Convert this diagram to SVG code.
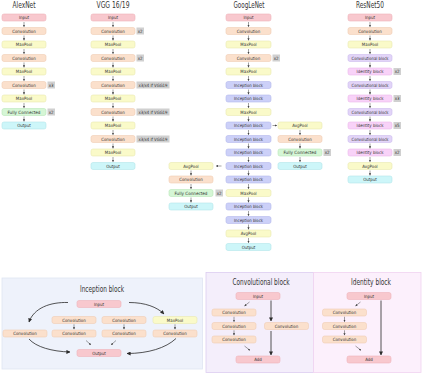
<svg xmlns="http://www.w3.org/2000/svg" width="423" height="375" viewBox="0 0 423 375">
<style>
.b{stroke-width:0.6}
.in{fill:#f8c8ce;stroke:#efb3bb}
.cv{fill:#fbe0cc;stroke:#f0ccb3}
.mp{fill:#fafac9;stroke:#e9e9b0}
.fc{fill:#d5f6d5;stroke:#b9e7b9}
.out{fill:#cdf6f9;stroke:#b1e5e9}
.inc{fill:#ccd0f8;stroke:#b4b8ec}
.cb{fill:#e2d4f8;stroke:#cdbcee}
.ib{fill:#f8d2f8;stroke:#ebb8eb}
.bd{fill:#d0d0d0}
.t{font-family:"Liberation Sans Narrow","DejaVu Sans Condensed",sans-serif;font-size:4.4px;fill:#333;text-anchor:middle;dominant-baseline:central}
.tt{font-family:"Liberation Sans Narrow","DejaVu Sans Condensed",sans-serif;font-size:8.5px;fill:#333;text-anchor:middle}
.ar{fill:none;stroke:#444;stroke-width:0.5;marker-end:url(#s)}
.ab{fill:none;stroke:#2a2a2a;stroke-width:0.8;marker-end:url(#l)}
.pn{stroke-width:0.8}
</style>
<defs>
<marker id="s" markerUnits="userSpaceOnUse" markerWidth="2.2" markerHeight="2.2" viewBox="0 0 10 10" refX="9" refY="5" orient="auto"><path d="M0,0L10,5L0,10z" fill="#444"/></marker>
<marker id="l" markerUnits="userSpaceOnUse" markerWidth="4" markerHeight="4" viewBox="0 0 10 10" refX="9" refY="5" orient="auto"><path d="M0,0L10,5L0,10z" fill="#2a2a2a"/></marker>
</defs>
<rect width="423" height="375" fill="#fff"/>

<!-- Titles -->
<g id="titles">
<text class="tt" x="24" y="8.3" textLength="23" lengthAdjust="spacingAndGlyphs">AlexNet</text>
<text class="tt" x="113" y="8.3" textLength="33" lengthAdjust="spacingAndGlyphs">VGG 16/19</text>
<text class="tt" x="249" y="8.3" textLength="31" lengthAdjust="spacingAndGlyphs">GoogLeNet</text>
<text class="tt" x="370" y="8.3" textLength="28" lengthAdjust="spacingAndGlyphs">ResNet50</text>
</g>

<!-- AlexNet -->
<g id="alex-0"><rect class="b in" x="2" y="14" width="44" height="7" rx="2"/><text class="t" x="24" y="17.6">Input</text></g>
<g id="alex-1"><rect class="b cv" x="2" y="27.5" width="44" height="7" rx="2"/><text class="t" x="24" y="31.1">Convolution</text></g>
<g id="alex-2"><rect class="b mp" x="2" y="41" width="44" height="7" rx="2"/><text class="t" x="24" y="44.6">MaxPool</text></g>
<g id="alex-3"><rect class="b cv" x="2" y="54.5" width="44" height="7" rx="2"/><text class="t" x="24" y="58.1">Convolution</text></g>
<g id="alex-4"><rect class="b mp" x="2" y="68" width="44" height="7" rx="2"/><text class="t" x="24" y="71.6">MaxPool</text></g>
<g id="alex-5"><rect class="b cv" x="2" y="81.5" width="44" height="7" rx="2"/><text class="t" x="24" y="85.1">Convolution</text><rect class="bd" x="47.5" y="81.5" width="7.5" height="7"/><text class="t" x="51.2" y="85.1">x3</text></g>
<g id="alex-6"><rect class="b mp" x="2" y="95" width="44" height="7" rx="2"/><text class="t" x="24" y="98.6">MaxPool</text></g>
<g id="alex-7"><rect class="b fc" x="2" y="108.5" width="44" height="7" rx="2"/><text class="t" x="24" y="112.1" textLength="33" lengthAdjust="spacingAndGlyphs">Fully Connected</text><rect class="bd" x="47.5" y="108.5" width="7.5" height="7"/><text class="t" x="51.2" y="112.1">x2</text></g>
<g id="alex-8"><rect class="b out" x="2" y="122" width="44" height="7" rx="2"/><text class="t" x="24" y="125.6">Output</text></g>

<!-- VGG -->
<g id="vgg-0"><rect class="b in" x="91" y="14" width="44" height="7" rx="2"/><text class="t" x="113" y="17.6">Input</text></g>
<g id="vgg-1"><rect class="b cv" x="91" y="27.5" width="44" height="7" rx="2"/><text class="t" x="113" y="31.1">Convolution</text><rect class="bd" x="136.5" y="27.5" width="7.5" height="7"/><text class="t" x="140.2" y="31.1">x2</text></g>
<g id="vgg-2"><rect class="b mp" x="91" y="41" width="44" height="7" rx="2"/><text class="t" x="113" y="44.6">MaxPool</text></g>
<g id="vgg-3"><rect class="b cv" x="91" y="54.5" width="44" height="7" rx="2"/><text class="t" x="113" y="58.1">Convolution</text><rect class="bd" x="136.5" y="54.5" width="7.5" height="7"/><text class="t" x="140.2" y="58.1">x2</text></g>
<g id="vgg-4"><rect class="b mp" x="91" y="68" width="44" height="7" rx="2"/><text class="t" x="113" y="71.6">MaxPool</text></g>
<g id="vgg-5"><rect class="b cv" x="91" y="81.5" width="44" height="7" rx="2"/><text class="t" x="113" y="85.1">Convolution</text><rect class="bd" x="136.5" y="81.5" width="33" height="7"/><text class="t" x="153" y="85.1" textLength="29" lengthAdjust="spacingAndGlyphs">x3/x4 if VGG19</text></g>
<g id="vgg-6"><rect class="b mp" x="91" y="95" width="44" height="7" rx="2"/><text class="t" x="113" y="98.6">MaxPool</text></g>
<g id="vgg-7"><rect class="b cv" x="91" y="108.5" width="44" height="7" rx="2"/><text class="t" x="113" y="112.1">Convolution</text><rect class="bd" x="136.5" y="108.5" width="33" height="7"/><text class="t" x="153" y="112.1" textLength="29" lengthAdjust="spacingAndGlyphs">x3/x4 if VGG19</text></g>
<g id="vgg-8"><rect class="b mp" x="91" y="122" width="44" height="7" rx="2"/><text class="t" x="113" y="125.6">MaxPool</text></g>
<g id="vgg-9"><rect class="b cv" x="91" y="135.5" width="44" height="7" rx="2"/><text class="t" x="113" y="139.1">Convolution</text><rect class="bd" x="136.5" y="135.5" width="33" height="7"/><text class="t" x="153" y="139.1" textLength="29" lengthAdjust="spacingAndGlyphs">x3/x4 if VGG19</text></g>
<g id="vgg-10"><rect class="b mp" x="91" y="149" width="44" height="7" rx="2"/><text class="t" x="113" y="152.6">MaxPool</text></g>
<g id="vgg-11"><rect class="b out" x="91" y="162.5" width="44" height="7" rx="2"/><text class="t" x="113" y="166.1">Output</text></g>

<!-- GoogLeNet main -->
<g id="g-0"><rect class="b in" x="226" y="14" width="45" height="7" rx="2"/><text class="t" x="248.5" y="17.6">Input</text></g>
<g id="g-1"><rect class="b cv" x="226" y="27.5" width="45" height="7" rx="2"/><text class="t" x="248.5" y="31.1">Convolution</text></g>
<g id="g-2"><rect class="b mp" x="226" y="41" width="45" height="7" rx="2"/><text class="t" x="248.5" y="44.6">MaxPool</text></g>
<g id="g-3"><rect class="b cv" x="226" y="54.5" width="45" height="7" rx="2"/><text class="t" x="248.5" y="58.1">Convolution</text><rect class="bd" x="272.5" y="54.5" width="7.5" height="7"/><text class="t" x="276.2" y="58.1">x2</text></g>
<g id="g-4"><rect class="b mp" x="226" y="68" width="45" height="7" rx="2"/><text class="t" x="248.5" y="71.6">MaxPool</text></g>
<g id="g-5"><rect class="b inc" x="226" y="81.5" width="45" height="7" rx="2"/><text class="t" x="248.5" y="85.1" textLength="29" lengthAdjust="spacingAndGlyphs">Inception block</text></g>
<g id="g-6"><rect class="b inc" x="226" y="95" width="45" height="7" rx="2"/><text class="t" x="248.5" y="98.6" textLength="29" lengthAdjust="spacingAndGlyphs">Inception block</text></g>
<g id="g-7"><rect class="b mp" x="226" y="108.5" width="45" height="7" rx="2"/><text class="t" x="248.5" y="112.1">MaxPool</text></g>
<g id="g-8"><rect class="b inc" x="226" y="122" width="45" height="7" rx="2"/><text class="t" x="248.5" y="125.6" textLength="29" lengthAdjust="spacingAndGlyphs">Inception block</text></g>
<g id="g-9"><rect class="b inc" x="226" y="135.5" width="45" height="7" rx="2"/><text class="t" x="248.5" y="139.1" textLength="29" lengthAdjust="spacingAndGlyphs">Inception block</text></g>
<g id="g-10"><rect class="b inc" x="226" y="149" width="45" height="7" rx="2"/><text class="t" x="248.5" y="152.6" textLength="29" lengthAdjust="spacingAndGlyphs">Inception block</text></g>
<g id="g-11"><rect class="b inc" x="226" y="162.5" width="45" height="7" rx="2"/><text class="t" x="248.5" y="166.1" textLength="29" lengthAdjust="spacingAndGlyphs">Inception block</text></g>
<g id="g-12"><rect class="b inc" x="226" y="176" width="45" height="7" rx="2"/><text class="t" x="248.5" y="179.6" textLength="29" lengthAdjust="spacingAndGlyphs">Inception block</text></g>
<g id="g-13"><rect class="b mp" x="226" y="189.5" width="45" height="7" rx="2"/><text class="t" x="248.5" y="193.1">MaxPool</text></g>
<g id="g-14"><rect class="b inc" x="226" y="203" width="45" height="7" rx="2"/><text class="t" x="248.5" y="206.6" textLength="29" lengthAdjust="spacingAndGlyphs">Inception block</text></g>
<g id="g-15"><rect class="b inc" x="226" y="216.5" width="45" height="7" rx="2"/><text class="t" x="248.5" y="220.1" textLength="29" lengthAdjust="spacingAndGlyphs">Inception block</text></g>
<g id="g-16"><rect class="b mp" x="226" y="230" width="45" height="7" rx="2"/><text class="t" x="248.5" y="233.6">AvgPool</text></g>
<g id="g-17"><rect class="b out" x="226" y="243.5" width="45" height="7" rx="2"/><text class="t" x="248.5" y="247.1">Output</text></g>

<!-- GoogLeNet right auxiliary -->
<g id="gr-0"><rect class="b mp" x="278" y="122" width="44" height="7" rx="2"/><text class="t" x="300" y="125.6">AvgPool</text></g>
<g id="gr-1"><rect class="b cv" x="278" y="135.5" width="44" height="7" rx="2"/><text class="t" x="300" y="139.1">Convolution</text></g>
<g id="gr-2"><rect class="b fc" x="278" y="149" width="44" height="7" rx="2"/><text class="t" x="300" y="152.6" textLength="33" lengthAdjust="spacingAndGlyphs">Fully Connected</text><rect class="bd" x="323.5" y="149" width="7.5" height="7"/><text class="t" x="327.2" y="152.6">x2</text></g>
<g id="gr-3"><rect class="b out" x="278" y="162.5" width="44" height="7" rx="2"/><text class="t" x="300" y="166.1">Output</text></g>

<!-- GoogLeNet left auxiliary -->
<g id="gl-0"><rect class="b mp" x="169" y="162.5" width="44" height="7" rx="2"/><text class="t" x="191" y="166.1">AvgPool</text></g>
<g id="gl-1"><rect class="b cv" x="169" y="176" width="44" height="7" rx="2"/><text class="t" x="191" y="179.6">Convolution</text></g>
<g id="gl-2"><rect class="b fc" x="169" y="189.5" width="44" height="7" rx="2"/><text class="t" x="191" y="193.1" textLength="33" lengthAdjust="spacingAndGlyphs">Fully Connected</text><rect class="bd" x="215.5" y="189.5" width="7.5" height="7"/><text class="t" x="219.2" y="193.1">x2</text></g>
<g id="gl-3"><rect class="b out" x="169" y="203" width="44" height="7" rx="2"/><text class="t" x="191" y="206.6">Output</text></g>

<!-- ResNet50 -->
<g id="r-0"><rect class="b in" x="348" y="14" width="44" height="7" rx="2"/><text class="t" x="370" y="17.6">Input</text></g>
<g id="r-1"><rect class="b cv" x="348" y="27.5" width="44" height="7" rx="2"/><text class="t" x="370" y="31.1">Convolution</text></g>
<g id="r-2"><rect class="b mp" x="348" y="41" width="44" height="7" rx="2"/><text class="t" x="370" y="44.6">MaxPool</text></g>
<g id="r-3"><rect class="b cb" x="348" y="54.5" width="44" height="7" rx="2"/><text class="t" x="370" y="58.1" textLength="37" lengthAdjust="spacingAndGlyphs">Convolutional block</text></g>
<g id="r-4"><rect class="b ib" x="348" y="68" width="44" height="7" rx="2"/><text class="t" x="370" y="71.6" textLength="27" lengthAdjust="spacingAndGlyphs">Identity block</text><rect class="bd" x="393.5" y="68" width="7.5" height="7"/><text class="t" x="397.2" y="71.6">x2</text></g>
<g id="r-5"><rect class="b cb" x="348" y="81.5" width="44" height="7" rx="2"/><text class="t" x="370" y="85.1" textLength="37" lengthAdjust="spacingAndGlyphs">Convolutional block</text></g>
<g id="r-6"><rect class="b ib" x="348" y="95" width="44" height="7" rx="2"/><text class="t" x="370" y="98.6" textLength="27" lengthAdjust="spacingAndGlyphs">Identity block</text><rect class="bd" x="393.5" y="95" width="7.5" height="7"/><text class="t" x="397.2" y="98.6">x3</text></g>
<g id="r-7"><rect class="b cb" x="348" y="108.5" width="44" height="7" rx="2"/><text class="t" x="370" y="112.1" textLength="37" lengthAdjust="spacingAndGlyphs">Convolutional block</text></g>
<g id="r-8"><rect class="b ib" x="348" y="122" width="44" height="7" rx="2"/><text class="t" x="370" y="125.6" textLength="27" lengthAdjust="spacingAndGlyphs">Identity block</text><rect class="bd" x="393.5" y="122" width="7.5" height="7"/><text class="t" x="397.2" y="125.6">x5</text></g>
<g id="r-9"><rect class="b cb" x="348" y="135.5" width="44" height="7" rx="2"/><text class="t" x="370" y="139.1" textLength="37" lengthAdjust="spacingAndGlyphs">Convolutional block</text></g>
<g id="r-10"><rect class="b ib" x="348" y="149" width="44" height="7" rx="2"/><text class="t" x="370" y="152.6" textLength="27" lengthAdjust="spacingAndGlyphs">Identity block</text><rect class="bd" x="393.5" y="149" width="7.5" height="7"/><text class="t" x="397.2" y="152.6">x2</text></g>
<g id="r-11"><rect class="b mp" x="348" y="162.5" width="44" height="7" rx="2"/><text class="t" x="370" y="166.1">AvgPool</text></g>
<g id="r-12"><rect class="b out" x="348" y="176" width="44" height="7" rx="2"/><text class="t" x="370" y="179.6">Output</text></g>

<!-- Panels -->
<g id="panel-inception">
<rect class="pn" x="2" y="278" width="200.5" height="91" fill="#eef2fb" stroke="#dfe5f2"/>
<text class="tt" x="102" y="291.5" textLength="44" lengthAdjust="spacingAndGlyphs">Inception block</text>
</g>
<g id="panel-conv">
<rect class="pn" x="206" y="272.5" width="107.5" height="100" fill="#f4eefb" stroke="#dccdf0"/>
<text class="tt" x="261" y="284.5" textLength="57" lengthAdjust="spacingAndGlyphs">Convolutional block</text>
</g>
<g id="panel-identity">
<rect class="pn" x="313.5" y="272.5" width="107.5" height="100" fill="#fcf0fc" stroke="#f0d3f0"/>
<text class="tt" x="371" y="284.5" textLength="40" lengthAdjust="spacingAndGlyphs">Identity block</text>
</g>

<!-- Inception block nodes -->
<g id="ib-input"><rect class="b in" x="77" y="300.5" width="44" height="7" rx="2"/><text class="t" x="99" y="304.1">Input</text></g>
<g id="ib-c21"><rect class="b cv" x="52" y="316.5" width="44" height="7" rx="2"/><text class="t" x="74" y="320.1">Convolution</text></g>
<g id="ib-c22"><rect class="b cv" x="102" y="316.5" width="44" height="7" rx="2"/><text class="t" x="124" y="320.1">Convolution</text></g>
<g id="ib-mp"><rect class="b mp" x="153" y="316.5" width="44" height="7" rx="2"/><text class="t" x="175" y="320.1">MaxPool</text></g>
<g id="ib-c30"><rect class="b cv" x="3" y="330" width="44" height="7" rx="2"/><text class="t" x="25" y="333.6">Convolution</text></g>
<g id="ib-c31"><rect class="b cv" x="52" y="330" width="44" height="7" rx="2"/><text class="t" x="74" y="333.6">Convolution</text></g>
<g id="ib-c32"><rect class="b cv" x="102" y="330" width="44" height="7" rx="2"/><text class="t" x="124" y="333.6">Convolution</text></g>
<g id="ib-c33"><rect class="b cv" x="153" y="330" width="44" height="7" rx="2"/><text class="t" x="175" y="333.6">Convolution</text></g>
<g id="ib-output"><rect class="b in" x="77" y="349.5" width="44" height="7" rx="2"/><text class="t" x="99" y="353.1">Output</text></g>

<!-- Convolutional block nodes -->
<g id="cb-input"><rect class="b in" x="236" y="292.5" width="44" height="7" rx="2"/><text class="t" x="258" y="296.1">Input</text></g>
<g id="cb-c1"><rect class="b cv" x="212" y="309" width="44" height="7" rx="2"/><text class="t" x="234" y="312.6">Convolution</text></g>
<g id="cb-c2"><rect class="b cv" x="212" y="322.5" width="44" height="7" rx="2"/><text class="t" x="234" y="326.1">Convolution</text></g>
<g id="cb-c3"><rect class="b cv" x="212" y="336" width="44" height="7" rx="2"/><text class="t" x="234" y="339.6">Convolution</text></g>
<g id="cb-cs"><rect class="b cv" x="264.5" y="322.5" width="44" height="7" rx="2"/><text class="t" x="286.5" y="326.1">Convolution</text></g>
<g id="cb-add"><rect class="b in" x="236" y="356" width="44" height="7" rx="2"/><text class="t" x="258" y="359.6">Add</text></g>

<!-- Identity block nodes -->
<g id="id-input"><rect class="b in" x="347" y="292.5" width="44" height="7" rx="2"/><text class="t" x="369" y="296.1">Input</text></g>
<g id="id-c1"><rect class="b cv" x="322.5" y="309" width="44" height="7" rx="2"/><text class="t" x="344.5" y="312.6">Convolution</text></g>
<g id="id-c2"><rect class="b cv" x="322.5" y="322.5" width="44" height="7" rx="2"/><text class="t" x="344.5" y="326.1">Convolution</text></g>
<g id="id-c3"><rect class="b cv" x="322.5" y="336" width="44" height="7" rx="2"/><text class="t" x="344.5" y="339.6">Convolution</text></g>
<g id="id-add"><rect class="b in" x="347" y="356" width="44" height="7" rx="2"/><text class="t" x="369" y="359.6">Add</text></g>

<!-- Connectors -->
<g id="connectors">
<path class="ar" d="M24,22V26.8"/><path class="ar" d="M24,35.5V40.3"/><path class="ar" d="M24,49V53.8"/><path class="ar" d="M24,62.5V67.3"/><path class="ar" d="M24,76V80.8"/><path class="ar" d="M24,89.5V94.3"/><path class="ar" d="M24,103V107.8"/><path class="ar" d="M24,116.5V121.3"/>
<path class="ar" d="M113,22V26.8"/><path class="ar" d="M113,35.5V40.3"/><path class="ar" d="M113,49V53.8"/><path class="ar" d="M113,62.5V67.3"/><path class="ar" d="M113,76V80.8"/><path class="ar" d="M113,89.5V94.3"/><path class="ar" d="M113,103V107.8"/><path class="ar" d="M113,116.5V121.3"/><path class="ar" d="M113,130V134.8"/><path class="ar" d="M113,143.5V148.3"/><path class="ar" d="M113,157V161.8"/>
<path class="ar" d="M248.5,22V26.8"/><path class="ar" d="M248.5,35.5V40.3"/><path class="ar" d="M248.5,49V53.8"/><path class="ar" d="M248.5,62.5V67.3"/><path class="ar" d="M248.5,76V80.8"/><path class="ar" d="M248.5,89.5V94.3"/><path class="ar" d="M248.5,103V107.8"/><path class="ar" d="M248.5,116.5V121.3"/><path class="ar" d="M248.5,130V134.8"/><path class="ar" d="M248.5,143.5V148.3"/><path class="ar" d="M248.5,157V161.8"/><path class="ar" d="M248.5,170.5V175.3"/><path class="ar" d="M248.5,184V188.8"/><path class="ar" d="M248.5,197.5V202.3"/><path class="ar" d="M248.5,211V215.8"/><path class="ar" d="M248.5,224.5V229.3"/><path class="ar" d="M248.5,238V242.8"/>
<path class="ar" d="M272.5,125.5H277"/>
<path class="ar" d="M300,130V134.8"/><path class="ar" d="M300,143.5V148.3"/><path class="ar" d="M300,157V161.8"/>
<path class="ar" d="M221.5,166H216"/>
<path class="ar" d="M191,170.5V175.3"/><path class="ar" d="M191,184V188.8"/><path class="ar" d="M191,197.5V202.3"/>
<path class="ar" d="M370,22V26.8"/><path class="ar" d="M370,35.5V40.3"/><path class="ar" d="M370,49V53.8"/><path class="ar" d="M370,62.5V67.3"/><path class="ar" d="M370,76V80.8"/><path class="ar" d="M370,89.5V94.3"/><path class="ar" d="M370,103V107.8"/><path class="ar" d="M370,116.5V121.3"/><path class="ar" d="M370,130V134.8"/><path class="ar" d="M370,143.5V148.3"/><path class="ar" d="M370,157V161.8"/><path class="ar" d="M370,170.5V175.3"/>
<path class="ab" d="M68,302.5C50,302 34,308 29,322"/>
<path class="ab" d="M129,302.5C145,302.5 157,307 164,314"/>
<path class="ab" d="M29,339C36,347 52,351.5 70,352"/>
<path class="ab" d="M176,338.5C166,348 148,353.5 127,353.5"/>
<path class="ar" d="M74,324.3V329.2"/><path class="ar" d="M124,324.3V329.2"/><path class="ar" d="M175,324.3V329.2"/>
<path class="ar" d="M86,340.5L90.8,344.8"/><path class="ar" d="M116,340.5L111.2,344.8"/>
<path class="ar" d="M249.5,302L244.5,306"/>
<path class="ar" d="M234,316.8V321.7"/><path class="ar" d="M234,330.3V335.2"/>
<path class="ar" d="M244.5,346L250,350.3"/>
<path class="ab" d="M271,300.5V321"/>
<path class="ab" d="M271,331V355"/>
<path class="ar" d="M360.5,302L355.5,306"/>
<path class="ar" d="M344.5,316.8V321.7"/><path class="ar" d="M344.5,330.3V335.2"/>
<path class="ar" d="M355.5,346L361,350.3"/>
<path class="ab" d="M381,300.5V355"/>
</g>
</svg>
